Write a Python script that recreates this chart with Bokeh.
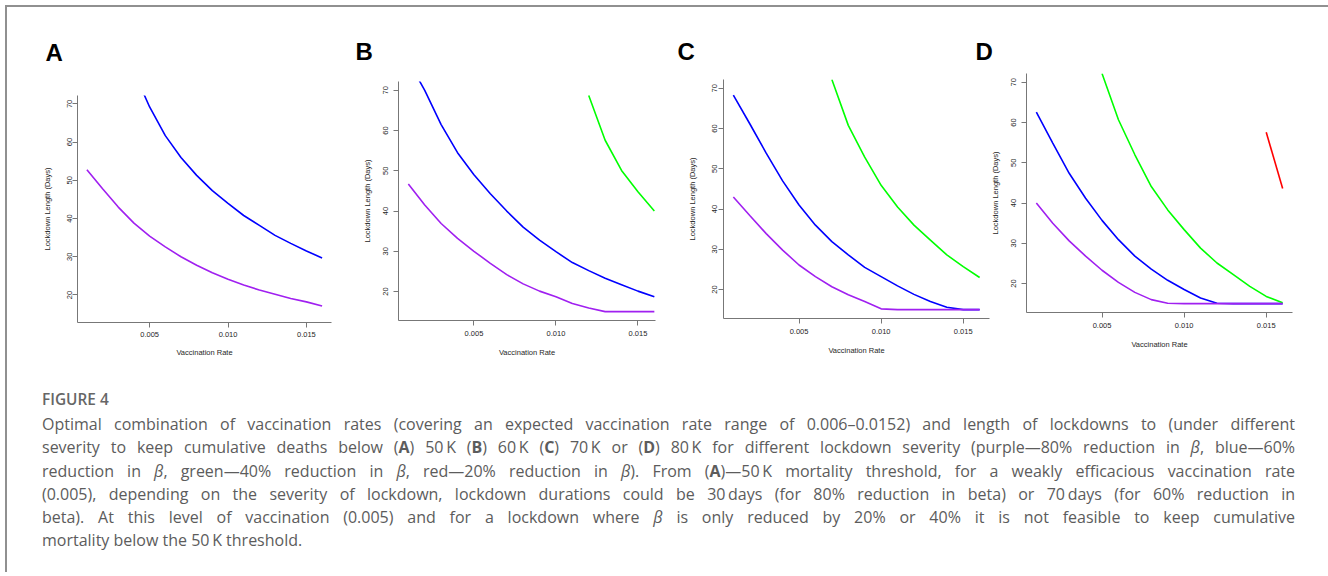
from bokeh.plotting import figure
from bokeh.models import Range1d, FixedTicker, PrintfTickFormatter, Div
from bokeh.layouts import column
from bokeh.embed import file_html
from bokeh.resources import INLINE

NaN = float("nan")

# ---------------- data ----------------
vacc_rate = [0.001, 0.002, 0.003, 0.004, 0.005, 0.006, 0.007, 0.008,
             0.009, 0.010, 0.011, 0.012, 0.013, 0.014, 0.015, 0.016]
x_ticks = [0.005, 0.010, 0.015]
y_ticks = [20, 30, 40, 50, 60, 70]
panel_letters = ["A", "B", "C", "D"]
x_label = "Vaccination Rate"
y_label = "Lockdown Length (Days)"

# (A) 50 K threshold
purple_A = [52.8, 47.8, 43.0, 38.8, 35.4, 32.6, 30.0, 27.8, 25.8, 24.1, 22.6, 21.3, 20.2, 19.1, 18.2, 17.1]
blue_A = [NaN, NaN, NaN, 78.4, 69.2, 61.7, 56.0, 51.3, 47.3, 44.0, 40.8, 38.2, 35.6, 33.5, 31.5, 29.7]
# (B) 60 K threshold
purple_B = [46.7, 41.5, 36.9, 33.2, 30.0, 27.0, 24.2, 21.9, 20.1, 18.7, 17.0, 15.9, 15.0, 15.0, 15.0, 15.0]
blue_B = [77.3, 70.0, 61.5, 54.5, 49.0, 44.3, 40.0, 36.0, 32.8, 29.9, 27.2, 25.2, 23.3, 21.7, 20.1, 18.7]
green_B = [NaN, NaN, NaN, NaN, NaN, NaN, NaN, NaN, NaN, NaN, NaN, 68.7, 57.6, 50.1, 44.8, 40.0]
# (C) 70 K threshold
purple_C = [43.0, 38.4, 33.9, 29.8, 26.1, 23.2, 20.7, 18.7, 17.0, 15.2, 15.0, 15.0, 15.0, 15.0, 15.0, 15.0]
blue_C = [68.3, 61.2, 53.9, 47.0, 41.0, 36.0, 31.9, 28.6, 25.5, 23.2, 20.9, 18.8, 17.0, 15.6, 15.0, 15.0]
green_C = [NaN, NaN, NaN, NaN, NaN, NaN, 72.2, 60.8, 52.9, 45.9, 40.5, 36.0, 32.3, 28.6, 25.7, 23.0]
# (D) 80 K threshold
purple_D = [40.0, 35.0, 30.6, 26.8, 23.3, 20.3, 17.8, 16.0, 15.1, 15.0, 15.0, 15.0, 15.0, 15.0, 15.0, 15.0]
blue_D = [62.6, 54.9, 47.4, 41.2, 35.7, 30.9, 26.8, 23.6, 20.8, 18.5, 16.4, 15.1, 15.0, 15.0, 15.0, 15.0]
green_D = [NaN, NaN, NaN, NaN, 72.2, 60.7, 52.0, 44.1, 38.3, 33.4, 28.8, 25.1, 22.2, 19.3, 16.8, 15.2]
red_D = [NaN, NaN, NaN, NaN, NaN, NaN, NaN, NaN, NaN, NaN, NaN, NaN, NaN, NaN, 57.6, 43.6]

caption_title = "FIGURE 4"
caption_lines = [
    "Optimal combination of vaccination rates (covering an expected vaccination rate range of 0.006\u20130.0152) and length of lockdowns to (under different",
    "severity to keep cumulative deaths below (<b>A</b>) 50\u2009K (<b>B</b>) 60\u2009K (<b>C</b>) 70\u2009K or (<b>D</b>) 80\u2009K for different lockdown severity (purple\u201480% reduction in <i>\u03b2</i>, blue\u201460%",
    "reduction in <i>\u03b2</i>, green\u201440% reduction in <i>\u03b2</i>, red\u201420% reduction in <i>\u03b2</i>). From (<b>A</b>)\u201450\u2009K mortality threshold, for a weakly efficacious vaccination rate",
    "(0.005), depending on the severity of lockdown, lockdown durations could be 30\u2009days (for 80% reduction in beta) or 70\u2009days (for 60% reduction in",
    "beta). At this level of vaccination (0.005) and for a lockdown where <i>\u03b2</i> is only reduced by 20% or 40% it is not feasible to keep cumulative",
    "mortality below the 50\u2009K threshold.",
]

# ---------------- styling / layout ----------------
COLORS = {"purple": "#A020F0", "blue": "#0000FF", "green": "#00FF00", "red": "#FF0000"}
FONT = "Liberation Sans"
AXIS_COLOR = "#777777"
TEXT_COLOR = "#262626"

panels = [
    dict(series=[("blue", blue_A), ("purple", purple_A)],
         frame=(77, 95, 254, 227), x_end=0.0166, letter_x=45, title_so=60,
         ylab_so=0, yaxis_so=13, xlab_so=4, xaxis_so=8),
    dict(series=[("blue", blue_B), ("green", green_B), ("purple", purple_B)],
         frame=(398, 81, 257, 239), x_end=0.01607, letter_x=355, title_so=33,
         ylab_so=5, yaxis_so=9, xlab_so=5, xaxis_so=9),
    dict(series=[("blue", blue_C), ("green", green_C), ("purple", purple_C)],
         frame=(723, 79, 266, 239), x_end=0.0166, letter_x=677, title_so=30,
         ylab_so=1, yaxis_so=13, xlab_so=5, xaxis_so=9),
    dict(series=[("blue", blue_D), ("green", green_D), ("red", red_D), ("purple", purple_D)],
         frame=(1026, 73, 266, 239), x_end=0.0166, letter_x=975, title_so=17,
         ylab_so=5, yaxis_so=9, xlab_so=5, xaxis_so=9),
]

FIG_TOP = 0
FIG_BOTTOM = 372


def make_panel(letter, spec):
    fl, ft, fw, fh = spec["frame"]
    ml, mr = 66, 6
    mt = ft - FIG_TOP
    mb = FIG_BOTTOM - (ft + fh)
    p = figure(width=ml + fw + mr, height=mt + fh + mb,
               x_range=Range1d(0.0004, spec["x_end"]), y_range=Range1d(12.8, 72.2),
               output_backend="svg", toolbar_location=None,
               min_border_left=ml, min_border_right=mr,
               min_border_top=mt, min_border_bottom=mb,
               styles={"position": "absolute", "left": f"{fl - ml}px", "top": f"{FIG_TOP}px"})
    p.background_fill_alpha = 0
    p.border_fill_alpha = 0
    p.outline_line_color = None
    p.xgrid.visible = False
    p.ygrid.visible = False

    # panel letter as the figure title
    p.title.text = letter
    p.title.text_font = FONT
    p.title.text_font_style = "bold"
    p.title.text_font_size = "24px"
    p.title.text_color = "#000000"
    p.title.align = "left"
    p.title.offset = spec["letter_x"] - fl
    p.title.standoff = spec["title_so"]

    for name, vals in spec["series"]:
        p.line(x=vacc_rate, y=vals, line_color=COLORS[name], line_width=1.6)

    xa = p.xaxis[0]
    xa.ticker = FixedTicker(ticks=x_ticks)
    xa.formatter = PrintfTickFormatter(format="%.3f")
    xa.axis_label = x_label
    xa.axis_label_standoff = spec["xaxis_so"]
    xa.major_label_standoff = spec["xlab_so"]

    ya = p.yaxis[0]
    ya.ticker = FixedTicker(ticks=y_ticks)
    ya.axis_label = y_label
    ya.major_label_orientation = "parallel"
    ya.axis_label_standoff = spec["yaxis_so"]
    ya.major_label_standoff = spec["ylab_so"]

    for ax in (xa, ya):
        ax.minor_tick_line_color = None
        ax.major_tick_in = 0
        ax.major_tick_out = 5
        ax.axis_line_color = AXIS_COLOR
        ax.major_tick_line_color = AXIS_COLOR
        ax.axis_line_width = 1
        ax.major_label_text_font = FONT
        ax.major_label_text_font_size = "7.5px"
        ax.major_label_text_color = TEXT_COLOR
        ax.axis_label_text_font = FONT
        ax.axis_label_text_font_size = "7.5px"
        ax.axis_label_text_font_style = "normal"
        ax.axis_label_text_color = TEXT_COLOR
    return p


figs = [make_panel(letter, spec) for letter, spec in zip(panel_letters, panels)]

border = Div(text="", width=1330, height=567, margin=0,
             styles={"position": "absolute", "left": "5px", "top": "5px",
                     "border-top": "2px solid #909090", "border-left": "2px solid #909090",
                     "box-sizing": "border-box"})

line_html = "".join(
    f'<div style="text-align:justify;text-align-last:{"justify" if i < len(caption_lines) - 1 else "left"};height:23.3px;">{ln}</div>'
    for i, ln in enumerate(caption_lines)
)
caption_html = (
    '<div style="font-family:\'Open Sans\';color:#5c5c5c;width:1253px;">'
    f'<div style="font-size:15.4px;font-weight:600;color:#666;height:25px;line-height:23.3px;">{caption_title}</div>'
    f'<div style="font-size:16px;line-height:23.3px;font-weight:400;">{line_html}</div>'
    '</div>'
)
caption = Div(text=caption_html, width=1253, height=170, margin=0,
              styles={"position": "absolute", "left": "42px", "top": "388px"})

layout = column(border, *figs, caption, width=1328, height=576, sizing_mode="fixed",
                styles={"position": "relative"})

open("out.html", "w").write(file_html(layout, INLINE))
